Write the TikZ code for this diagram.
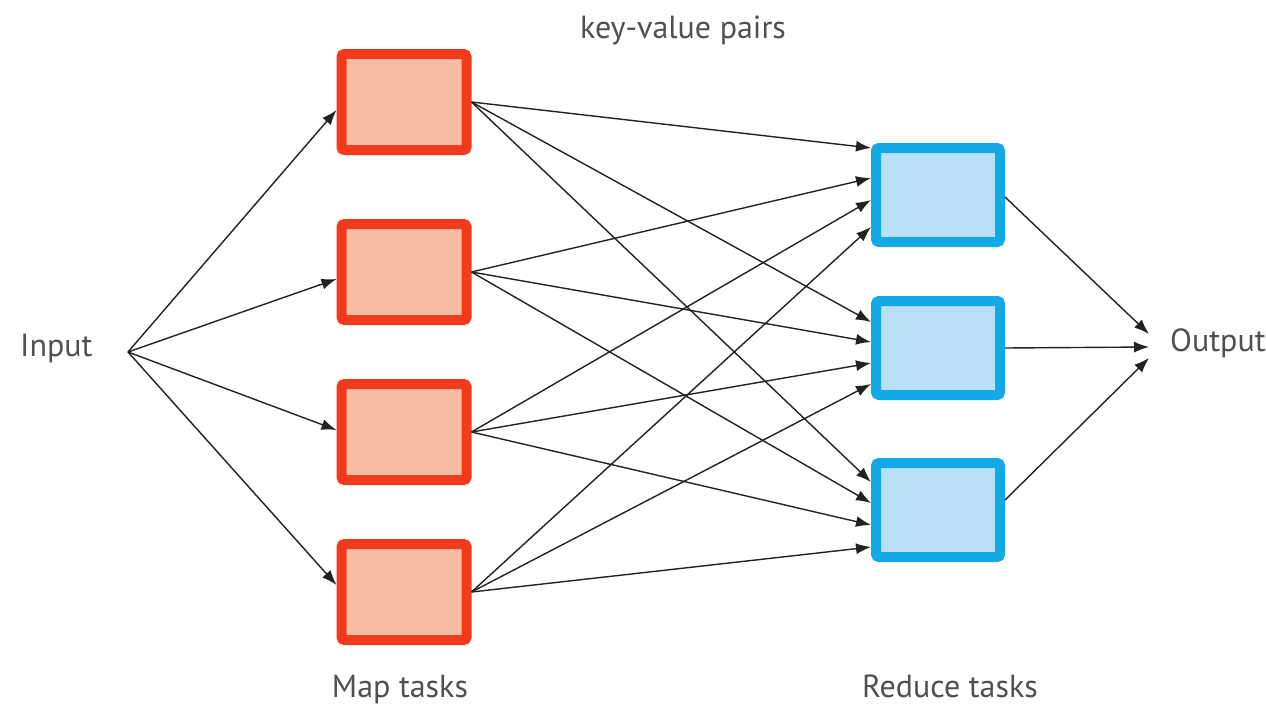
\documentclass[tikz,border=0pt]{standalone}
\usepackage{fontspec}
\setmainfont{PT Sans}
\usetikzlibrary{arrows.meta,calc}
\definecolor{mapfill}{HTML}{F8BCA2}
\definecolor{mapedge}{HTML}{F23A1C}
\definecolor{redfill}{HTML}{BAE0F6}
\definecolor{rededge}{HTML}{12A9E6}
\definecolor{txtcol}{HTML}{505050}
\definecolor{conncol}{HTML}{222222}
\begin{document}
\begin{tikzpicture}[x=1pt,y=-1pt,
  mapbox/.style={draw=mapedge,fill=mapfill,line width=10pt,rounded corners=3pt,minimum width=125pt,minimum height=96pt,inner sep=0pt},
  redbox/.style={draw=rededge,fill=redfill,line width=10pt,rounded corners=3pt,minimum width=124pt,minimum height=94pt,inner sep=0pt},
  conn/.style={draw=conncol,line width=1.4pt,-{Latex[length=15pt,width=11pt]}},
  lbl/.style={text=txtcol,font=\fontsize{32}{34}\selectfont,inner sep=0pt}]
\useasboundingbox[fill=white] (0,0) rectangle (1266,707);
% map boxes
\node[mapbox] (m1) at (404,102) {};
\node[mapbox] (m2) at (404,272) {};
\node[mapbox] (m3) at (404,432) {};
\node[mapbox] (m4) at (404,592) {};
% reduce boxes
\node[redbox] (r1) at (938,195) {};
\node[redbox] (r2) at (938,348) {};
\node[redbox] (r3) at (938,510) {};
% labels
\node[lbl,anchor=base west] (in) at (20,356) {Input};
\node[lbl,anchor=base west] (outl) at (1170,351) {Output};
\node[lbl,anchor=base] (kv) at (683,38) {key-value pairs};
\node[lbl,anchor=base] (mt) at (400,697) {Map tasks};
\node[lbl,anchor=base] (rt) at (950,697) {Reduce tasks};
\coordinate (ip) at (128,352);
\coordinate (op) at (1149,347);
% input to map
\draw[conn] (ip) -- ($(m1.west)+(0,8)$);
\draw[conn] (ip) -- ($(m2.west)+(0,7)$);
\draw[conn] (ip) -- ($(m3.west)+(0,-2)$);
\draw[conn] (ip) -- ($(m4.west)+(0,-7)$);
% map to reduce
\foreach \m/\a/\b/\c in {m1/-47/-26/-28, m2/-17/-6/-7, m3/5/15/15, m4/32/36/37}{
  \draw[conn] (\m.east) -- ($(r1.west)+(0,\a)$);
  \draw[conn] (\m.east) -- ($(r2.west)+(0,\b)$);
  \draw[conn] (\m.east) -- ($(r3.west)+(0,\c)$);
}
% reduce to output
\draw[conn] ($(r1.east)+(0,2)$) -- ($(op)+(0,-13)$);
\draw[conn] (r2.east) -- (op);
\draw[conn] ($(r3.east)+(0,-10)$) -- ($(op)+(0,11)$);
\end{tikzpicture}
\end{document}
